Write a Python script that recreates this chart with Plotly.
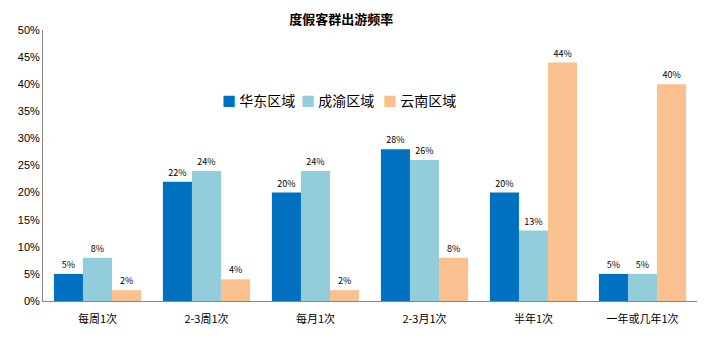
import plotly.graph_objects as go

categories = ["每周1次", "2-3周1次", "每月1次", "2-3月1次", "半年1次", "一年或几年1次"]
huadong = [5, 22, 20, 28, 20, 5]
chengyu = [8, 24, 24, 26, 13, 5]
yunnan = [2, 4, 2, 8, 44, 40]
series_names = ["华东区域", "成渝区域", "云南区域"]
colors = ["#0070C0", "#92CDDC", "#FAC090"]

font_family = "Noto Sans CJK SC, Noto Sans, sans-serif"

fig = go.Figure()
for name, vals, col in zip(series_names, [huadong, chengyu, yunnan], colors):
    fig.add_trace(go.Bar(
        x=categories,
        y=[v / 100 for v in vals],
        name=name,
        marker=dict(color=col, line=dict(width=0)),
        text=[f"{v}%" for v in vals],
        textposition="outside",
        textfont=dict(size=9, color="#000000", family=font_family),
        cliponaxis=False,
        showlegend=False,
    ))

# compact legend inside the plot: small colour square followed by the series name
legend_pos = [0.27, 0.392, 0.517]
for name, col, lx in zip(series_names, colors, legend_pos):
    fig.add_annotation(
        x=lx, y=0.742, xref="paper", yref="paper",
        text=f"<span style='color:{col}'>■</span> {name}",
        showarrow=False, xanchor="left", yanchor="middle",
        font=dict(size=14, color="#000000", family=font_family),
    )

fig.update_layout(
    width=705,
    height=339,
    margin=dict(l=43, r=8, t=30, b=38),
    paper_bgcolor="white",
    plot_bgcolor="white",
    barmode="group",
    bargap=0.2,
    bargroupgap=0,
    title=dict(
        text="<b>度假客群出游频率</b>",
        font=dict(size=13, color="#000000", family=font_family),
        xref="container", x=0.484, xanchor="center",
        yref="container", y=0.944, yanchor="middle",
    ),
)

fig.update_xaxes(
    showline=True, linecolor="#868686", linewidth=1,
    showgrid=False, ticks="outside", ticklen=8, tickcolor="rgba(0,0,0,0)",
    tickfont=dict(size=11, color="#000000", family=font_family),
)
fig.update_yaxes(
    range=[0, 0.5], dtick=0.05, tickformat=".0%",
    showline=True, linecolor="#868686", linewidth=1,
    showgrid=False, zeroline=False, ticks="",
    tickfont=dict(size=11, color="#000000", family="Liberation Sans, Arial, sans-serif"),
)

fig.write_html("out.html")
